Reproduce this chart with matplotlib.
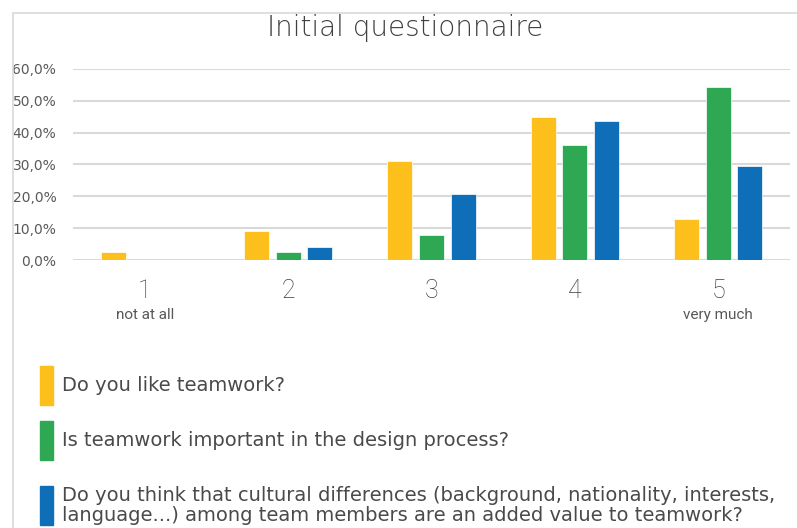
import matplotlib
matplotlib.use("Agg")
from matplotlib import pyplot as plt
from matplotlib.patches import Rectangle
from matplotlib import transforms
import numpy as np

# dados
categorias = ['1', '2', '3', '4', '5']
subtitulos = ['not at all', '', '', '', 'very much']
gosta = [2.6, 9.0, 31.0, 44.9, 12.8]        # Do you like teamwork?
importante = [0.0, 2.6, 7.7, 36.0, 54.2]    # Is teamwork important...
cultura = [0.0, 4.0, 20.7, 43.6, 29.6]      # cultural differences...
series = [gosta, importante, cultura]
legenda = ['Do you like teamwork?',
           'Is teamwork important in the design process?',
           'Do you think that cultural differences (background, nationality, interests,\n'
           'language...) among team members are an added value to teamwork?']
cores = ['#FDBF1B', '#2EA853', '#0E6FB8']

plt.rcParams['font.family'] = ['DejaVu Sans']

fig = plt.figure(figsize=(7.97, 5.28), dpi=100)
W, H = 797, 528

# borda do gráfico
fig.add_artist(Rectangle((13 / W, -0.1), 1.2, 1 - 13 / H + 0.1, transform=fig.transFigure,
                         fill=False, edgecolor='#d9d9d9', linewidth=1.2))

ax = fig.add_axes([73 / W, 1 - 260 / H, (790 - 73) / W, (260 - 69) / H])

x = np.arange(1, 6)
larg = 0.174
desl = 0.22
for i, (s, c) in enumerate(zip(series, cores)):
    ax.bar(x + (i - 1) * desl, np.array(s) / 100, width=larg, color=c,
           edgecolor='white', linewidth=0.5, zorder=3)

ax.set_xlim(0.5, 5.5)
ax.set_ylim(0, 0.6)
yt = np.arange(0, 0.61, 0.1)
ax.set_yticks(yt)
ax.set_yticklabels([('%.1f%%' % (v * 100)).replace('.', ',') for v in yt],
                   fontsize=10, color='#595959')
ax.grid(axis='y', color='#d9d9d9', linewidth=1.5, zorder=0)
ax.tick_params(axis='y', length=0, pad=12)
ax.set_xticks([])
for sp in ax.spines.values():
    sp.set_visible(False)

trans = transforms.blended_transform_factory(ax.transData, fig.transFigure)
for xi, cat, sub in zip(x, categorias, subtitulos):
    ax.text(xi, 1 - 291 / H, cat, transform=trans, ha='center', va='center',
            fontsize=18, color='#404040', family=['Roboto', 'DejaVu Sans'], fontweight='light')
    ax.text(xi, 1 - 315 / H, sub, transform=trans, ha='center', va='center',
            fontsize=11, color='#595959', family=['Roboto', 'DejaVu Sans'])

fig.text(405 / W, 1 - 28 / H, 'Initial questionnaire', ha='center', va='center',
         fontsize=20, color='#404040', fontweight='light')

# legenda manual
legy = [(366, 405), (421, 460), (486, 525)]
for (y0, y1), c, lab in zip(legy, cores, legenda):
    fig.add_artist(Rectangle((40 / W, 1 - y1 / H), 13 / W, (y1 - y0) / H,
                             transform=fig.transFigure, color=c))
    fig.text(62 / W, 1 - (y0 + y1) / 2 / H, lab, ha='left', va='center',
             fontsize=14, color='#4a4a4a', linespacing=1.05)

fig.savefig('out.png', dpi=100)
